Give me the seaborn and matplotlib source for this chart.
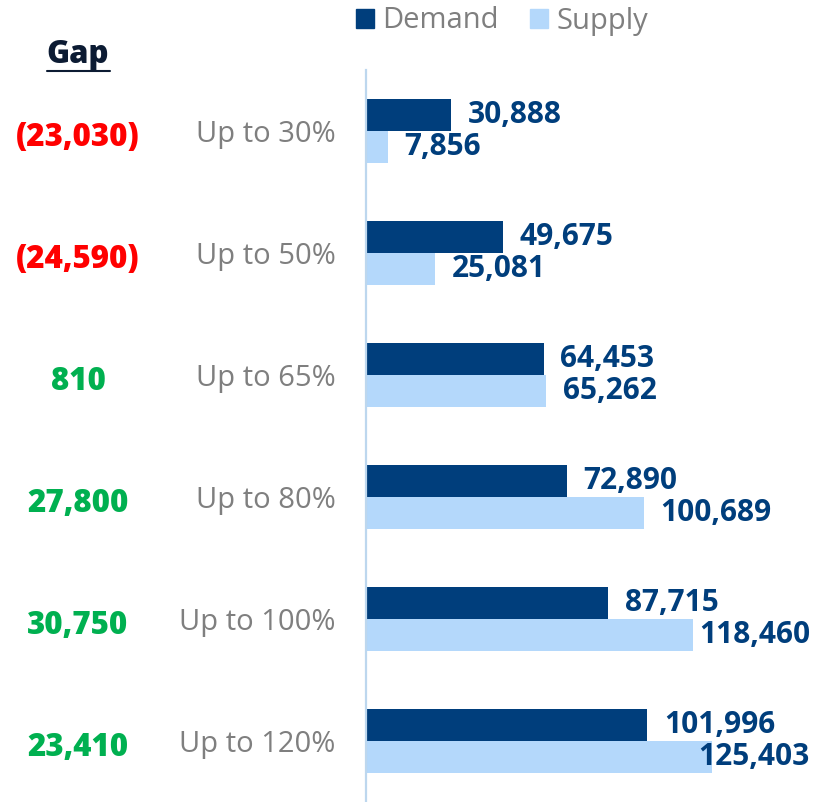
import pandas as pd
import seaborn as sns
import matplotlib.pyplot as plt
from matplotlib.lines import Line2D

# values
bands = ['Up to 30%', 'Up to 50%', 'Up to 65%', 'Up to 80%', 'Up to 100%', 'Up to 120%']
demand = [30888, 49675, 64453, 72890, 87715, 101996]
supply = [7856, 25081, 65262, 100689, 118460, 125403]
gap = [-23030, -24590, 810, 27800, 30750, 23410]

DARK = '#003E7C'
LIGHT = '#B4D8FB'
GREY = '#7F7F7F'

df = pd.DataFrame({
    'band': bands * 2,
    'value': demand + supply,
    'series': ['Demand'] * len(bands) + ['Supply'] * len(bands),
})

sns.set_style('white')
plt.rcParams['font.family'] = ['Open Sans', 'DejaVu Sans']

fig = plt.figure(figsize=(8.27, 8.02), dpi=100)
ax = fig.add_axes([366 / 827, 0.0, (810 - 366) / 827, 1 - 70 / 802])

sns.barplot(data=df, y='band', x='value', hue='series', orient='h',
            palette=[DARK, LIGHT], saturation=1, width=0.52, gap=0, linewidth=0,
            legend=False, ax=ax)

ax.set_xlim(0, 161000)
ax.set_ylim(len(bands) - 0.5, -0.5)
ax.set_xlabel('')
ax.set_ylabel('')
ax.set_xticks([])
for s in ['top', 'right', 'bottom']:
    ax.spines[s].set_visible(False)
ax.spines['left'].set_color('#BDD7EE')
ax.spines['left'].set_linewidth(1.6)
ax.tick_params(axis='y', length=0, pad=22, labelsize=21, labelcolor=GREY)

# value labels, pulled back inside when they would run off the plot
fig.canvas.draw()
renderer = fig.canvas.get_renderer()
ax_right = ax.get_window_extent().x1 + 2
for cont in ax.containers:
    anns = ax.bar_label(cont, labels=[f'{v:,.0f}' for v in cont.datavalues],
                        padding=12, fontsize=21.5, fontweight='bold', color=DARK)
    for ann, bar in zip(anns, cont):
        ext = ann.get_window_extent(renderer)
        if ext.x1 > ax_right:
            ann.xy = (ax.get_xlim()[1], ann.xy[1])
            ann.xyann = (0, 0)
            ann.set_ha('right')

# gap column
fig.text(78 / 827, 1 - 55 / 802, 'Gap', ha='center', va='center',
         fontsize=22.5, fontweight=800, color='#0C1B33')
fig.add_artist(Line2D([47 / 827, 110 / 827], [1 - 71 / 802] * 2,
                      transform=fig.transFigure, color='#0C1B33', lw=1.5))
for i, g in enumerate(gap):
    txt = f'({-g:,})' if g < 0 else f'{g:,}'
    ax.annotate(txt, xy=(78 / 827, i), xycoords=('figure fraction', 'data'),
                xytext=(0, -5), textcoords='offset points',
                ha='center', va='center', fontsize=22.5, fontweight=800,
                color='#FF0000' if g < 0 else '#00B050', annotation_clip=False)

handles = [plt.Rectangle((0, 0), 1, 1, color=DARK), plt.Rectangle((0, 0), 1, 1, color=LIGHT)]
leg = fig.legend(handles, ['Demand', 'Supply'], loc='center', ncol=2,
                 bbox_to_anchor=(502 / 827, 1 - 21 / 802), frameon=False,
                 fontsize=21, handlelength=0.62, handleheight=0.62,
                 handletextpad=0.3, columnspacing=1.05, borderpad=0)
for t in leg.get_texts():
    t.set_color(GREY)

fig.savefig('out.png', dpi=100)
